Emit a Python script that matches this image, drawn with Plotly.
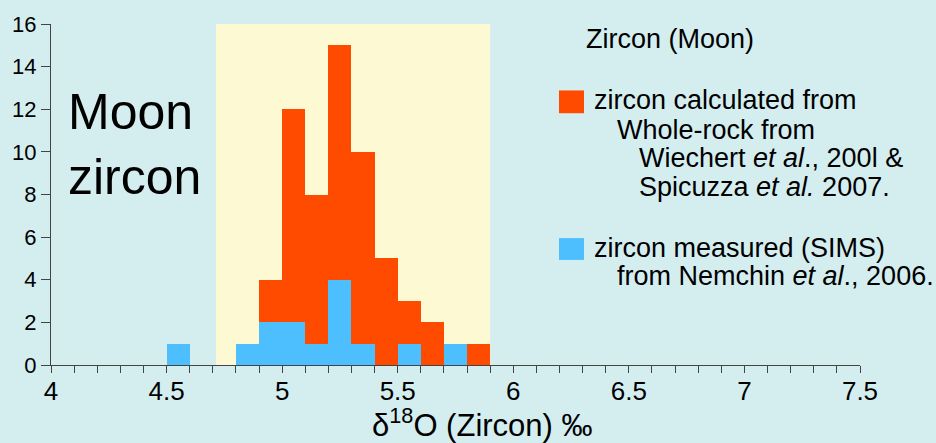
import plotly.graph_objects as go

# ---- data ----
red_centers = [4.95, 5.05, 5.15, 5.25, 5.35, 5.45, 5.55, 5.65, 5.75, 5.85]
red_counts = [4, 12, 8, 15, 10, 5, 3, 2, 0, 1]
blue_centers = [4.55, 4.65, 4.75, 4.85, 4.95, 5.05, 5.15, 5.25, 5.35, 5.45, 5.55, 5.65, 5.75]
blue_counts = [1, 0, 0, 1, 2, 2, 1, 4, 1, 0, 1, 0, 1]
band_range = [4.714, 5.9]
bin_width = 0.1

W, H = 936, 443
L, R, T, B = 51, 860, 21, 365

def px(x):
    return (x - L) / (R - L)

def py(y):
    return (B - y) / (B - T)

BG = "#d4eef0"
RED = "#ff4b00"
BLUE = "#4dbefe"
YEL = "#fdf9d3"
FONT = "Liberation Sans, Arial, sans-serif"

fig = go.Figure()
fig.add_trace(go.Bar(x=red_centers, y=red_counts, width=bin_width, marker=dict(color=RED, line=dict(width=0)),
                     name="zircon calculated from Whole-rock", showlegend=False))
fig.add_trace(go.Bar(x=blue_centers, y=blue_counts, width=bin_width, marker=dict(color=BLUE, line=dict(width=0)),
                     name="zircon measured (SIMS)", showlegend=False))

fig.add_shape(type="rect", xref="x", yref="y", x0=band_range[0], x1=band_range[1], y0=0, y1=16,
              fillcolor=YEL, line=dict(width=0), layer="below")

# custom legend squares
fig.add_shape(type="rect", xref="paper", yref="paper", x0=px(559), x1=px(584), y0=py(111), y1=py(88),
              fillcolor=RED, line=dict(width=0))
fig.add_shape(type="rect", xref="paper", yref="paper", x0=px(559), x1=px(584), y0=py(259), y1=py(237),
              fillcolor=BLUE, line=dict(width=0))

LS = 27

def txt(x, baseline, s, size=LS):
    fig.add_annotation(xref="paper", yref="paper", x=px(x), y=py(baseline - 0.35 * size), text=s,
                       showarrow=False, xanchor="left", yanchor="middle", align="left",
                       font=dict(size=size, color="black", family=FONT))

txt(584, 46, "Zircon (Moon)")
txt(592, 107, "zircon calculated from")
txt(615, 137, "Whole-rock from")
txt(637, 166, "Wiechert <i>et al</i>., 200l &amp;")
txt(637, 195, "Spicuzza <i>et al.</i> 2007.")
txt(592, 256, "zircon measured (SIMS)")
txt(615, 285, "from Nemchin <i>et al</i>., 2006.")

fig.add_annotation(xref="paper", yref="paper", x=px(66), y=py(143), text="Moon<br>zircon",
                   showarrow=False, xanchor="left", yanchor="middle", align="left",
                   font=dict(size=50, color="black", family=FONT))

fig.add_annotation(xref="paper", yref="paper", x=px(482), y=py(424), text="δ<sup>18</sup>O (Zircon) ‰",
                   showarrow=False, xanchor="center", yanchor="middle",
                   font=dict(size=31, color="black", family=FONT))

fig.update_layout(
    width=W, height=H,
    margin=dict(l=L, r=W - R, t=T, b=H - B),
    paper_bgcolor=BG, plot_bgcolor=BG,
    barmode="overlay", bargap=0,
    font=dict(family=FONT, color="black"),
    xaxis=dict(range=[4, 7.5], showgrid=False, zeroline=False, showline=True, linecolor="#444", linewidth=1,
               ticks="outside", ticklen=7, tickcolor="#444", tick0=4, dtick=0.5,
               tickfont=dict(size=26, color="black"), ticklabelstandoff=-4,
               minor=dict(ticks="outside", ticklen=7, tickcolor="#444", dtick=0.1, showgrid=False)),
    yaxis=dict(range=[0, 16], showgrid=False, zeroline=False, showline=True, linecolor="#444", linewidth=1,
               ticks="outside", ticklen=9, tickcolor="#444", dtick=2,
               tickfont=dict(size=22, color="black")),
)

fig.write_html("out.html", config={"displayModeBar": False},
               post_script="document.body.style.margin='0px';")
